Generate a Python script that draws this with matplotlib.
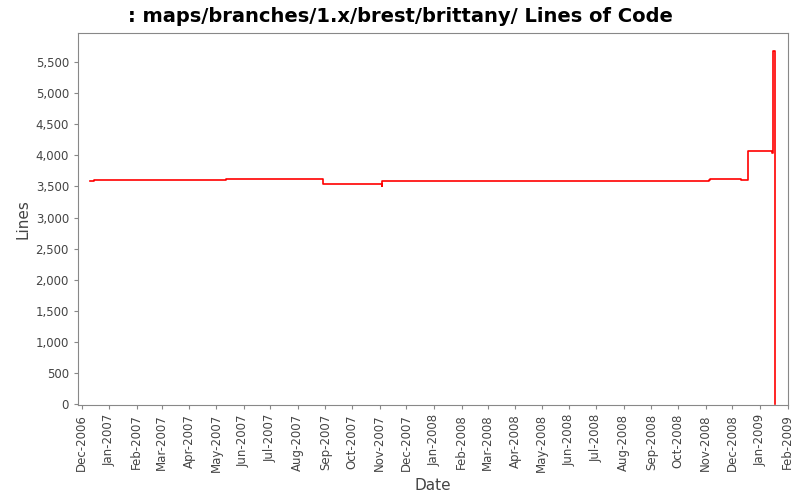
import matplotlib
matplotlib.use("Agg")
import matplotlib.pyplot as plt
import matplotlib.dates as mdates
import matplotlib.ticker as mticker
import pandas as pd

dates = ["2006-12-11", "2006-12-13", "2006-12-15", "2007-05-12", "2007-08-29",
         "2007-11-03", "2007-11-04", "2008-11-05", "2008-11-06", "2008-12-11",
         "2008-12-19", "2009-01-15", "2009-01-16", "2009-01-17", "2009-01-18"]
lines = [3590, 3580, 3600, 3615, 3540, 3500, 3580, 3610, 3625, 3610,
         4075, 4040, 5680, 5670, 0]

d = pd.to_datetime(dates)
fig = plt.figure(figsize=(8, 5), dpi=100)
ax = fig.add_axes([0.0975, 0.19, 0.888, 0.744])
ax.step(d, lines, where="post", color="red", lw=1.2)
ax.set_xlim(pd.Timestamp("2006-11-27"), pd.Timestamp("2009-02-02"))
ax.set_ylim(-10, 5965)
ax.xaxis.set_major_locator(mdates.MonthLocator())
ax.xaxis.set_major_formatter(mdates.DateFormatter("%b-%Y"))
ax.yaxis.set_major_locator(mticker.MultipleLocator(500))
ax.yaxis.set_major_formatter(mticker.StrMethodFormatter("{x:,.0f}"))
plt.setp(ax.get_xticklabels(), rotation=90, fontsize=8.5, color="#444444")
plt.setp(ax.get_yticklabels(), fontsize=8.5, color="#444444")
ax.tick_params(length=3, color="#888888")
for s in ax.spines.values():
    s.set_color("#888888")
ax.set_xlabel("Date", fontsize=11, color="#444444")
ax.set_ylabel("Lines", fontsize=11, color="#444444")
fig.suptitle(": maps/branches/1.x/brest/brittany/ Lines of Code", fontsize=14, fontweight="bold", y=0.985)
fig.savefig("out.png", dpi=100)
